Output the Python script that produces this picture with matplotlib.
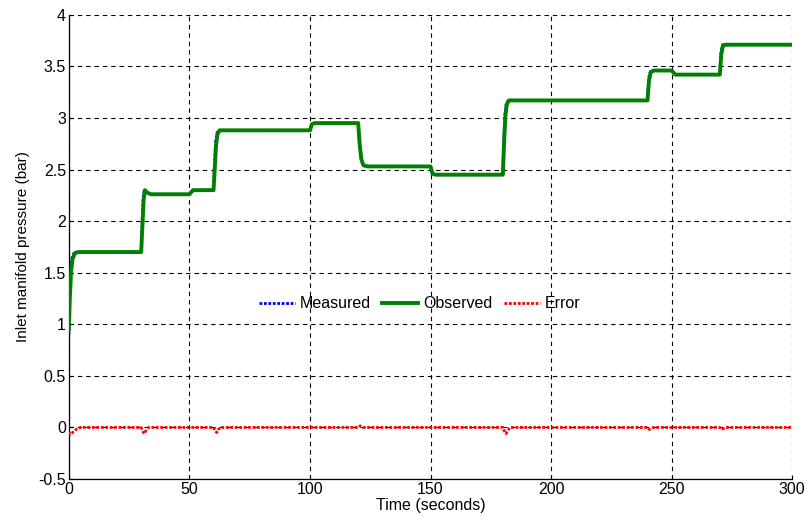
import numpy as np
import matplotlib.pyplot as plt

plt.rcParams['font.family'] = ['Liberation Sans', 'DejaVu Sans']

# observed inlet manifold pressure (bar) at selected times (s)
t_obs = [0.0, 0.4, 0.9, 1.5, 2.5, 4.0, 30.0, 30.5, 31.0, 31.5, 32.2, 34.0,
         50.0, 51.5, 60.0, 60.5, 61.0, 61.6, 62.5, 64.0, 100.0, 100.8, 102.0,
         120.0, 120.6, 121.3, 122.2, 124.0, 150.0, 150.8, 152.0, 180.0, 180.5,
         181.0, 181.6, 182.5, 184.0, 240.0, 240.6, 241.3, 242.5, 250.0, 251.5,
         270.0, 270.6, 271.3, 272.5, 300.0]
p_obs = [0.95, 1.25, 1.50, 1.63, 1.69, 1.70, 1.70, 1.95, 2.20, 2.30, 2.28, 2.26,
         2.26, 2.30, 2.30, 2.50, 2.72, 2.84, 2.88, 2.88, 2.88, 2.94, 2.95,
         2.95, 2.75, 2.60, 2.54, 2.53, 2.53, 2.46, 2.45, 2.45, 2.75,
         3.00, 3.13, 3.17, 3.17, 3.17, 3.36, 3.44, 3.46, 3.46, 3.42,
         3.42, 3.62, 3.70, 3.71, 3.71]

# measured pressure (bar)
t_meas = [0.0, 0.3, 0.8, 1.4, 2.4, 4.0, 30.0, 30.4, 30.9, 31.4, 32.2, 34.0,
          50.0, 51.5, 60.0, 60.4, 60.9, 61.5, 62.5, 64.0, 100.0, 100.8, 102.0,
          120.0, 120.6, 121.3, 122.2, 124.0, 150.0, 150.8, 152.0, 180.0, 180.4,
          180.9, 181.5, 182.5, 184.0, 240.0, 240.5, 241.2, 242.5, 250.0, 251.5,
          270.0, 270.5, 271.2, 272.5, 300.0]
p_meas = [0.90, 1.30, 1.56, 1.66, 1.70, 1.70, 1.70, 2.00, 2.25, 2.31, 2.28, 2.26,
          2.26, 2.30, 2.30, 2.55, 2.78, 2.86, 2.88, 2.88, 2.88, 2.94, 2.95,
          2.95, 2.74, 2.59, 2.54, 2.53, 2.53, 2.46, 2.45, 2.45, 2.80,
          3.05, 3.15, 3.17, 3.17, 3.17, 3.39, 3.45, 3.46, 3.46, 3.42,
          3.42, 3.65, 3.71, 3.71, 3.71]

# estimation error (bar)
t_err = [0.0, 0.5, 1.0, 2.0, 3.5, 5.0, 30.0, 30.7, 31.3, 32.0, 33.0, 60.0,
         60.7, 61.3, 62.0, 63.0, 120.0, 120.8, 122.0, 180.0, 180.7, 181.3,
         182.0, 183.0, 240.0, 240.8, 241.6, 242.5, 270.0, 270.8, 271.6, 272.5,
         300.0]
e_err = [-0.05, -0.07, -0.06, -0.04, -0.01, 0.0, 0.0, -0.04, -0.06, -0.03, 0.0, 0.0,
         -0.03, -0.05, -0.02, 0.0, 0.0, 0.015, 0.0, 0.0, -0.04, -0.06,
         -0.03, 0.0, 0.0, -0.02, -0.01, 0.0, 0.0, -0.02, -0.01, 0.0,
         0.0]

fig = plt.figure(figsize=(8.1, 5.21), dpi=100)
ax = fig.add_axes([0.085, 0.0806, 0.893, 0.891])

ax.plot(t_meas, p_meas, color='#0000ff', lw=2.0, ls=(0, (1, 0.6)), label='Measured', zorder=3)
ax.plot(t_obs, p_obs, color='#008000', lw=2.8, label='Observed', zorder=4)
ax.plot(t_err, e_err, color='#ff0000', lw=2.0, ls=(0, (1, 0.6)), label='Error', zorder=5)

ax.set_xlim(0, 300)
ax.set_ylim(-0.5, 4)
ax.set_xticks(np.arange(0, 301, 50))
ax.set_yticks(np.arange(-0.5, 4.01, 0.5))
ax.set_yticklabels(['-0.5', '0', '0.5', '1', '1.5', '2', '2.5', '3', '3.5', '4'])
ax.grid(True, color='black', lw=0.8, ls=(0, (4, 3.5)))
ax.set_axisbelow(True)
for s in ['top', 'right']:
    ax.spines[s].set_visible(False)
for s in ['left', 'bottom']:
    ax.spines[s].set_linewidth(0.9)
ax.tick_params(labelsize=11.5, direction='in', length=3, pad=2)

ax.set_xlabel('Time (seconds)', fontsize=11.5, labelpad=1)
ax.set_ylabel('Inlet manifold pressure (bar)', fontsize=11, labelpad=6)

ax.legend(loc='center', bbox_to_anchor=(0.485, 0.377), ncol=3, frameon=False,
          fontsize=11.5, handlelength=2.25, handletextpad=0.3, columnspacing=0.75,
          borderpad=0.2)

fig.savefig('out.png', dpi=100)
